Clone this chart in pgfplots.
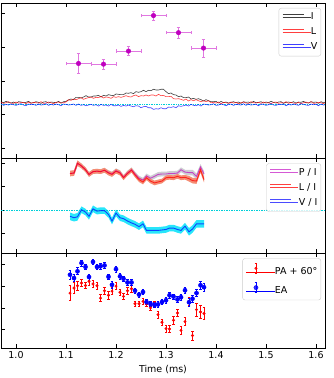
\documentclass[border=0pt]{standalone}
\usepackage{fontspec}
\setmainfont{DejaVu Sans}
\usepackage{pgfplots}
\usepackage{pgfplotstable}
\pgfplotsset{compat=1.18}
\usepgfplotslibrary{fillbetween}

\definecolor{magpt}{RGB}{191,0,191}
\definecolor{magerr}{RGB}{224,120,224}
\definecolor{lband}{RGB}{245,140,115}
\definecolor{pband}{RGB}{205,205,210}
\definecolor{vband}{RGB}{40,230,250}
\definecolor{zeroline}{RGB}{0,205,215}
\definecolor{legedge}{RGB}{204,204,204}

% pulse profiles (I, L, V)
\pgfplotstableread{
t I L V
0.970 1.38 1.36 1.32
0.975 1.35 1.33 1.27
0.980 1.39 1.35 1.30
0.985 1.36 1.38 1.28
0.990 1.34 1.34 1.31
0.995 1.37 1.33 1.29
1.000 1.33 1.37 1.27
1.005 1.38 1.34 1.30
1.010 1.37 1.35 1.32
1.015 1.35 1.36 1.28
1.020 1.36 1.32 1.26
1.025 1.39 1.37 1.31
1.030 1.34 1.33 1.29
1.035 1.35 1.36 1.30
1.040 1.38 1.35 1.27
1.045 1.36 1.34 1.31
1.050 1.33 1.38 1.28
1.055 1.37 1.33 1.29
1.060 1.38 1.34 1.32
1.065 1.34 1.37 1.27
1.070 1.37 1.35 1.30
1.075 1.36 1.32 1.28
1.080 1.35 1.36 1.31
1.085 1.39 1.37 1.29
1.090 1.34 1.34 1.26
1.095 1.38 1.35 1.31
1.100 1.39 1.37 1.30
1.105 1.43 1.44 1.28
1.110 1.46 1.42 1.29
1.115 1.44 1.46 1.31
1.120 1.51 1.44 1.27
1.125 1.51 1.47 1.31
1.130 1.49 1.50 1.27
1.135 1.52 1.45 1.29
1.140 1.56 1.48 1.26
1.145 1.52 1.50 1.28
1.150 1.52 1.52 1.30
1.155 1.55 1.48 1.27
1.160 1.55 1.51 1.29
1.165 1.57 1.50 1.25
1.170 1.52 1.54 1.30
1.175 1.57 1.49 1.27
1.180 1.55 1.52 1.28
1.185 1.59 1.51 1.25
1.190 1.57 1.48 1.30
1.195 1.56 1.53 1.26
1.200 1.61 1.51 1.26
1.205 1.60 1.53 1.28
1.210 1.59 1.51 1.24
1.215 1.59 1.53 1.27
1.220 1.64 1.56 1.25
1.225 1.63 1.53 1.28
1.230 1.65 1.52 1.25
1.235 1.62 1.56 1.23
1.240 1.68 1.58 1.26
1.245 1.66 1.53 1.25
1.250 1.68 1.56 1.20
1.255 1.72 1.55 1.23
1.260 1.68 1.58 1.24
1.265 1.72 1.55 1.20
1.270 1.71 1.58 1.20
1.275 1.75 1.58 1.15
1.280 1.73 1.55 1.17
1.285 1.73 1.60 1.16
1.290 1.75 1.56 1.20
1.295 1.75 1.57 1.17
1.300 1.68 1.53 1.17
1.305 1.62 1.53 1.22
1.310 1.64 1.54 1.21
1.315 1.59 1.47 1.23
1.320 1.58 1.46 1.20
1.325 1.53 1.47 1.26
1.330 1.55 1.45 1.24
1.335 1.50 1.42 1.26
1.340 1.50 1.46 1.28
1.345 1.52 1.40 1.25
1.350 1.46 1.44 1.30
1.355 1.48 1.41 1.27
1.360 1.45 1.44 1.26
1.365 1.47 1.41 1.29
1.370 1.44 1.38 1.25
1.375 1.40 1.41 1.31
1.380 1.44 1.38 1.30
1.385 1.41 1.41 1.28
1.390 1.38 1.35 1.29
1.395 1.38 1.36 1.32
1.400 1.39 1.34 1.27
1.405 1.34 1.37 1.28
1.410 1.39 1.32 1.31
1.415 1.35 1.36 1.29
1.420 1.37 1.35 1.26
1.425 1.34 1.33 1.30
1.430 1.36 1.37 1.31
1.435 1.38 1.34 1.27
1.440 1.35 1.36 1.30
1.445 1.37 1.32 1.29
1.450 1.33 1.35 1.28
1.455 1.38 1.37 1.32
1.460 1.36 1.34 1.27
1.465 1.37 1.33 1.31
1.470 1.34 1.38 1.28
1.475 1.39 1.35 1.29
1.480 1.35 1.34 1.30
1.485 1.36 1.36 1.26
1.490 1.38 1.33 1.31
1.495 1.34 1.37 1.30
1.500 1.37 1.34 1.27
1.505 1.35 1.35 1.29
1.510 1.39 1.32 1.32
1.515 1.36 1.36 1.28
1.520 1.34 1.37 1.27
1.525 1.37 1.33 1.30
1.530 1.38 1.35 1.29
1.535 1.33 1.34 1.31
1.540 1.36 1.38 1.26
1.545 1.37 1.33 1.30
1.550 1.35 1.36 1.28
1.555 1.38 1.34 1.31
1.560 1.34 1.33 1.29
1.565 1.37 1.36 1.27
1.570 1.36 1.32 1.32
1.575 1.39 1.35 1.30
1.580 1.35 1.37 1.28
1.585 1.34 1.34 1.27
1.590 1.38 1.38 1.31
1.595 1.36 1.33 1.29
1.600 1.37 1.34 1.30
1.605 1.33 1.36 1.26
1.610 1.38 1.35 1.31
1.615 1.35 1.32 1.28
1.620 1.37 1.37 1.29
}\profiles

% sub-pulse points with errors
\pgfplotstableread{
t y ex ey
1.125 2.52 0.025 0.29
1.175 2.50 0.025 0.15
1.225 2.89 0.025 0.14
1.275 3.95 0.025 0.13
1.325 3.44 0.025 0.17
1.375 2.98 0.025 0.27
}\subpulses

% polarisation fractions
\pgfplotstableread{
t PI PIe LI LIe VI VIe
1.108 0.78 0.05 0.78 0.06 -0.13 0.08
1.116 0.79 0.05 0.79 0.06 -0.16 0.08
1.123 1.00 0.05 1.00 0.06 -0.14 0.08
1.131 0.94 0.05 0.94 0.05 0.01 0.07
1.139 0.86 0.05 0.86 0.05 -0.04 0.07
1.146 0.76 0.05 0.76 0.05 -0.13 0.07
1.154 0.82 0.05 0.82 0.05 0.03 0.07
1.162 0.83 0.05 0.83 0.05 -0.02 0.07
1.169 0.82 0.05 0.82 0.05 -0.01 0.07
1.177 0.85 0.05 0.85 0.05 -0.01 0.07
1.185 0.80 0.05 0.79 0.05 -0.09 0.07
1.192 0.77 0.05 0.76 0.05 -0.23 0.07
1.200 0.84 0.05 0.83 0.05 -0.06 0.07
1.208 0.80 0.05 0.79 0.05 -0.16 0.07
1.215 0.70 0.05 0.69 0.05 -0.18 0.07
1.223 0.79 0.05 0.78 0.05 -0.23 0.07
1.231 0.86 0.05 0.85 0.05 -0.27 0.07
1.238 0.77 0.05 0.75 0.05 -0.30 0.07
1.246 0.68 0.05 0.65 0.05 -0.35 0.07
1.254 0.64 0.05 0.60 0.05 -0.29 0.07
1.261 0.73 0.05 0.69 0.05 -0.43 0.07
1.269 0.68 0.05 0.62 0.05 -0.43 0.07
1.277 0.72 0.05 0.58 0.05 -0.43 0.07
1.284 0.76 0.05 0.60 0.05 -0.43 0.07
1.292 0.77 0.05 0.62 0.05 -0.42 0.07
1.300 0.77 0.05 0.69 0.05 -0.41 0.07
1.307 0.78 0.05 0.70 0.05 -0.38 0.07
1.315 0.78 0.05 0.69 0.05 -0.38 0.07
1.323 0.79 0.05 0.72 0.05 -0.41 0.07
1.330 0.86 0.05 0.69 0.05 -0.43 0.07
1.338 0.81 0.05 0.70 0.05 -0.34 0.07
1.346 0.80 0.06 0.67 0.06 -0.46 0.08
1.353 0.80 0.06 0.63 0.06 -0.40 0.08
1.361 0.72 0.06 0.62 0.06 -0.29 0.08
1.369 0.92 0.06 0.86 0.06 -0.29 0.08
1.376 0.77 0.06 0.65 0.06 -0.29 0.08
}\fractions

% angles
\pgfplotstableread{
t pa pae ea eae
1.108 1.68 0.34 2.52 0.20
1.116 1.91 0.25 2.37 0.15
1.123 2.02 0.20 2.68 0.16
1.131 2.14 0.17 3.06 0.14
1.139 2.03 0.15 2.88 0.13
1.146 2.22 0.17 2.42 0.14
1.154 2.10 0.17 3.11 0.13
1.162 2.02 0.17 2.88 0.13
1.169 1.45 0.17 2.91 0.13
1.177 1.79 0.17 2.95 0.13
1.185 1.58 0.17 2.43 0.13
1.192 1.77 0.17 2.06 0.15
1.200 2.00 0.17 2.78 0.13
1.208 1.72 0.15 2.45 0.13
1.215 1.53 0.16 2.34 0.13
1.223 1.79 0.15 2.17 0.13
1.231 1.88 0.15 2.17 0.13
1.238 1.19 0.13 1.79 0.12
1.246 1.19 0.13 1.61 0.12
1.254 1.30 0.13 1.73 0.12
1.261 1.19 0.13 1.27 0.12
1.269 1.00 0.13 1.19 0.12
1.277 1.19 0.13 1.13 0.12
1.284 0.69 0.15 1.16 0.12
1.292 0.34 0.15 1.27 0.12
1.300 0.05 0.15 1.35 0.12
1.307 0.03 0.15 1.58 0.12
1.315 0.43 0.17 1.52 0.12
1.323 0.77 0.17 1.39 0.13
1.330 -0.03 0.17 1.49 0.13
1.338 0.37 0.18 1.81 0.14
1.346 1.30 0.20 1.26 0.18
1.353 -0.27 0.20 1.42 0.15
1.361 0.92 0.30 1.68 0.16
1.369 0.81 0.30 2.04 0.17
1.376 0.74 0.28 1.95 0.18
}\angles

\pgfplotsset{
  panel/.style={
    scale only axis, width=324pt,
    xmin=0.97, xmax=1.618,
    xtick={1.0,1.1,1.2,1.3,1.4,1.5,1.6},
    tick align=inside, xtick pos=both, ytick pos=left,
    major tick length=4pt,
    yticklabels={},
    axis line style={line width=0.8pt},
    tick style={line width=0.8pt, black},
    tick label style={font=\fontsize{9.5}{11}\selectfont},
    label style={font=\fontsize{9.5}{11}\selectfont},
    /pgf/number format/assume math mode=true,
    legend cell align=left,
    legend style={draw=legedge, rounded corners=2.5pt, fill=white, fill opacity=0.8,
      text opacity=1, font=\fontsize{9.5}{11}\selectfont, anchor=north east,
      inner xsep=3.5pt, inner ysep=4.5pt, row sep=6pt, column sep=0pt,
      nodes={inner sep=0pt, text height=7pt, text depth=2pt}},
  },
  shortline/.style={legend image code/.code={\path (0pt,0pt) -- (28pt,0pt);
    \draw[##1] (0pt,3.2pt) -- (21pt,3.2pt);}},
}

\begin{document}
\begin{tikzpicture}
% top: profiles
\begin{axis}[panel, shortline, at={(1pt,220pt)}, anchor=south west, height=154.5pt,
  ymin=-0.30, ymax=4.31, ytick={0,1,2,3,4}, xticklabels={},
  legend style={at={(0.988,0.971)}}]
\addplot[zeroline, densely dotted, line width=0.7pt, forget plot] coordinates {(0.97,1.315) (1.618,1.315)};
\addplot[black, opacity=0.75, line width=0.6pt] table[x=t, y=I] {\profiles};
\addplot[red, opacity=0.75, line width=0.6pt] table[x=t, y=L] {\profiles};
\addplot[blue, opacity=0.75, line width=0.6pt] table[x=t, y=V] {\profiles};
\addplot[only marks, mark=*, mark size=2.3pt, color=magpt, forget plot,
  error bars/.cd, x dir=both, x explicit, y dir=both, y explicit,
  error bar style={magerr, line width=0.8pt},
  error mark options={rotate=90, magerr, mark size=1.8pt, line width=0.8pt}]
  table[x=t, y=y, x error=ex, y error=ey] {\subpulses};
\legend{I, L, V}
\end{axis}

% middle: fractions
\begin{axis}[panel, shortline, at={(1pt,125pt)}, anchor=south west, height=95pt,
  ymin=-0.91, ymax=1.11, ytick={-0.5,0,0.5,1}, xticklabels={},
  legend style={at={(0.988,0.944)}}]
\addplot[zeroline, dash pattern=on 1.5pt off 1pt, line width=0.6pt, forget plot] coordinates {(0.97,0) (1.618,0)};
\addplot[name path=pu, draw=none, forget plot] table[x=t, y expr=\thisrow{PI}+\thisrow{PIe}] {\fractions};
\addplot[name path=pl, draw=none, forget plot] table[x=t, y expr=\thisrow{PI}-\thisrow{PIe}] {\fractions};
\addplot[pband, forget plot] fill between[of=pu and pl];
\addplot[name path=lu, draw=none, forget plot] table[x=t, y expr=\thisrow{LI}+\thisrow{LIe}] {\fractions};
\addplot[name path=ll, draw=none, forget plot] table[x=t, y expr=\thisrow{LI}-\thisrow{LIe}] {\fractions};
\addplot[lband, forget plot] fill between[of=lu and ll];
\addplot[name path=vu, draw=none, forget plot] table[x=t, y expr=\thisrow{VI}+\thisrow{VIe}] {\fractions};
\addplot[name path=vl, draw=none, forget plot] table[x=t, y expr=\thisrow{VI}-\thisrow{VIe}] {\fractions};
\addplot[vband, forget plot] fill between[of=vu and vl];
\addplot[magpt, opacity=0.65, line width=0.9pt] table[x=t, y=PI] {\fractions};
\addplot[red, opacity=0.75, line width=0.9pt] table[x=t, y=LI] {\fractions};
\addplot[blue, opacity=0.7, line width=0.9pt] table[x=t, y=VI] {\fractions};
\legend{P / I, L / I, V / I}
\end{axis}

% bottom: angles
\begin{axis}[panel, at={(1pt,30pt)}, anchor=south west, height=95pt,
  ymin=-0.84, ymax=3.52, ytick={0,1,2,3},
  xticklabels={1.0,1.1,1.2,1.3,1.4,1.5,1.6},
  xlabel={Time (ms)},
  legend style={at={(0.988,0.944)}}]
\addplot[only marks, mark=*, mark size=1.3pt, red,
  legend image code/.code={\path (0pt,0pt) -- (28.5pt,0pt);
    \draw[red, line width=0.7pt] (9.7pt,-1.6pt) -- (9.7pt,8.4pt) (8.4pt,-1.6pt) -- (11pt,-1.6pt) (8.4pt,8.4pt) -- (11pt,8.4pt);
    \fill[red] (9.7pt,3.4pt) circle (1.3pt);},
  error bars/.cd, y dir=both, y explicit,
  error bar style={red, line width=0.7pt},
  error mark options={rotate=90, red, mark size=1.3pt, line width=0.7pt}]
  table[x=t, y=pa, y error=pae] {\angles};
\addplot[only marks, mark=*, mark size=2.1pt, blue,
  legend image code/.code={\path (0pt,0pt) -- (28.5pt,0pt);
    \draw[blue, line width=0.7pt] (9.7pt,-1.6pt) -- (9.7pt,8.4pt) (8.4pt,-1.6pt) -- (11pt,-1.6pt) (8.4pt,8.4pt) -- (11pt,8.4pt);
    \fill[blue] (9.7pt,3.4pt) circle (2.1pt);},
  error bars/.cd, y dir=both, y explicit,
  error bar style={blue, line width=0.7pt},
  error mark options={rotate=90, blue, mark size=1.3pt, line width=0.7pt}]
  table[x=t, y=ea, y error=eae] {\angles};
\legend{PA + 60°, EA}
\end{axis}
\pgfresetboundingbox
\path[use as bounding box] (0pt,0pt) rectangle (334pt,378pt);
\end{tikzpicture}
\end{document}
